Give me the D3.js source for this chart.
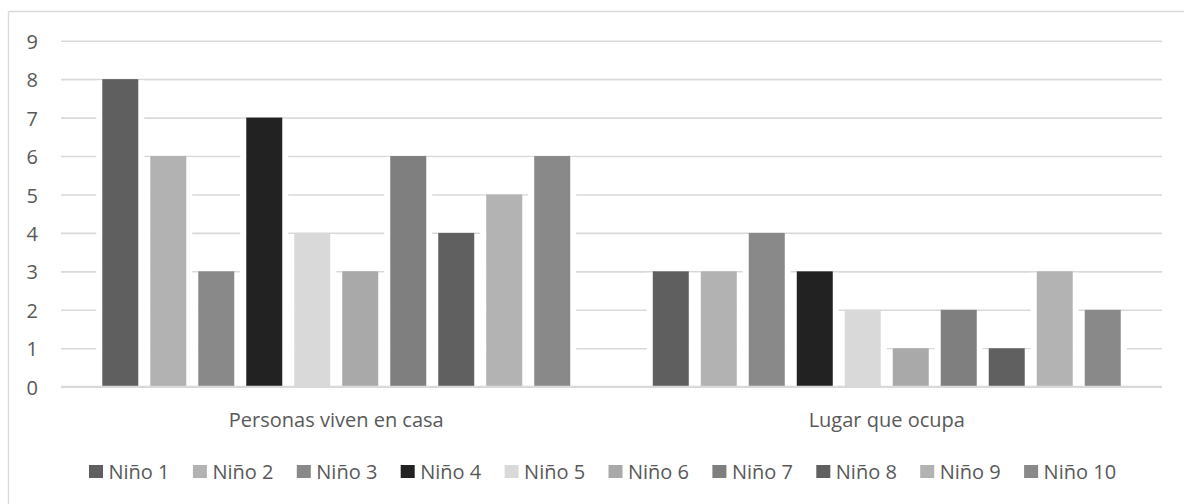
<!DOCTYPE html>
<html>
<head>
<meta charset="utf-8">
<script src="https://cdn.jsdelivr.net/npm/d3@7"></script>
<style>
  html, body { margin: 0; padding: 0; background: #ffffff; }
  svg { display: block; font-family: "Open Sans", "DejaVu Sans", sans-serif; }
</style>
</head>
<body>
<svg id="chart" width="1184" height="504"></svg>
<script>
const categories = ["Personas viven en casa", "Lugar que ocupa"];
const series = ["Niño 1", "Niño 2", "Niño 3", "Niño 4", "Niño 5", "Niño 6", "Niño 7", "Niño 8", "Niño 9", "Niño 10"];
const personasVivenEnCasa = [8, 6, 3, 7, 4, 3, 6, 4, 5, 6];
const lugarQueOcupa = [3, 3, 4, 3, 2, 1, 2, 1, 3, 2];
const seriesColors = ["#5f5f5f", "#b2b2b2", "#898989", "#222222", "#d9d9d9", "#a9a9a9", "#7f7f7f", "#606060", "#b3b3b3", "#898989"];
const yTicks = [0, 1, 2, 3, 4, 5, 6, 7, 8, 9];

const valuesByCategory = [personasVivenEnCasa, lugarQueOcupa];

const svg = d3.select("#chart");
const W = 1184, H = 504;
const plot = { left: 61, right: 1162, top: 40.7, bottom: 386.7 };
const textColor = "#595959";
const gridColor = "#d9d9d9";
const fontSize = 20;

// chart border (cut off at right / bottom like the reference)
svg.append("line").attr("x1", 8.5).attr("x2", W).attr("y1", 11.5).attr("y2", 11.5)
  .attr("stroke", gridColor).attr("stroke-width", 1.3);
svg.append("line").attr("x1", 8.5).attr("x2", 8.5).attr("y1", 11.5).attr("y2", H)
  .attr("stroke", gridColor).attr("stroke-width", 1.3);

const y = d3.scaleLinear().domain([0, 9]).range([plot.bottom, plot.top]);
const x0 = d3.scaleBand().domain(categories).range([plot.left, plot.right]).padding(0);
const x1 = d3.scaleBand().domain(series).range([0, x0.bandwidth()])
  .paddingInner(0.25).paddingOuter(0.86);

// gridlines
const yAxis = d3.axisLeft(y).tickValues(yTicks).tickSize(-(plot.right - plot.left)).tickPadding(23);
const gAxis = svg.append("g").attr("transform", `translate(${plot.left},0)`).call(yAxis);
gAxis.select(".domain").remove();
gAxis.selectAll(".tick line").attr("stroke", gridColor).attr("stroke-width", 1.6);
gAxis.selectAll(".tick text")
  .attr("fill", textColor)
  .attr("font-size", fontSize)
  .attr("font-family", "'Open Sans', sans-serif")
  .attr("dy", "0.38em");

// data
const rows = [];
categories.forEach((c, ci) => {
  series.forEach((s, si) => {
    rows.push({ cat: c, ser: s, si: si, value: valuesByCategory[ci][si] });
  });
});

// white side-gaps behind bars (Excel-like rendering of the gaps)
const gap = x1.step() - x1.bandwidth();
svg.append("g").selectAll("rect").data(rows).join("rect")
  .attr("x", d => x0(d.cat) + x1(d.ser) - gap / 2)
  .attr("y", d => y(d.value) + 1.2)
  .attr("width", x1.bandwidth() + gap)
  .attr("height", d => plot.bottom - y(d.value) - 2.2)
  .attr("fill", "#ffffff");

// bars
svg.append("g").selectAll("rect").data(rows).join("rect")
  .attr("x", d => x0(d.cat) + x1(d.ser))
  .attr("y", d => y(d.value))
  .attr("width", x1.bandwidth())
  .attr("height", d => plot.bottom - y(d.value))
  .attr("fill", d => seriesColors[d.si]);

// category axis
const xAxis = d3.axisBottom(x0).tickSize(0).tickPadding(0);
const gX = svg.append("g").attr("transform", `translate(0,${plot.bottom})`).call(xAxis);
gX.select(".domain").remove();
svg.append("line").attr("x1", plot.left).attr("x2", plot.right)
  .attr("y1", plot.bottom).attr("y2", plot.bottom)
  .attr("stroke", gridColor).attr("stroke-width", 1.8);
gX.selectAll(".tick text")
  .attr("fill", textColor)
  .attr("font-size", fontSize)
  .attr("font-family", "'Open Sans', sans-serif")
  .attr("y", 427 - plot.bottom)
  .attr("dy", 0);

// legend
const legendStart = 89, legendStep = 103.9;
const legend = svg.append("g").selectAll("g").data(series).join("g")
  .attr("transform", (d, i) => `translate(${legendStart + i * legendStep},0)`);
legend.append("rect").attr("x", 0).attr("y", 465).attr("width", 14).attr("height", 13)
  .attr("fill", (d, i) => seriesColors[i]);
legend.append("text").attr("x", 19.5).attr("y", 479)
  .attr("fill", textColor).attr("font-size", fontSize)
  .text(d => d);
</script>
</body>
</html>
